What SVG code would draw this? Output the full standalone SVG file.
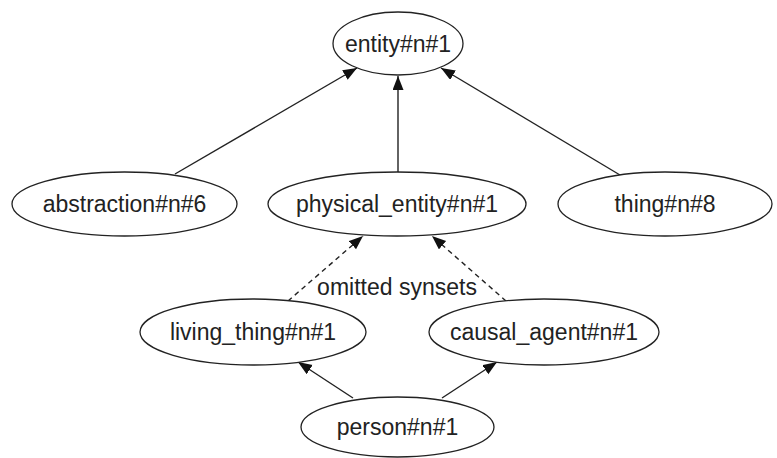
<svg xmlns="http://www.w3.org/2000/svg" width="777" height="458" viewBox="0 0 777 458">
  <style>
    .node ellipse { fill: #ffffff; stroke: #222222; stroke-width: 1.3; }
    .node text { font-family: "Liberation Sans", Arial, Helvetica, sans-serif; font-size: 23px; fill: #222222; text-anchor: middle; }
    .edge { stroke: #222222; stroke-width: 1.4; fill: none; }
    .dashed { stroke-dasharray: 5 4; }
    .label { font-family: "Liberation Sans", Arial, Helvetica, sans-serif; font-size: 23px; fill: #222222; text-anchor: middle; }
  </style>
  <defs>
    <marker id="arrow" markerUnits="userSpaceOnUse" markerWidth="15" markerHeight="12" refX="14" refY="5.5" orient="auto">
      <path d="M0,0 L14,5.5 L0,11 Z" fill="#111111"/>
    </marker>
  </defs>
  <rect width="777" height="458" fill="#ffffff"/>

  <g id="connectors">
    <line class="edge" x1="175" y1="174" x2="357" y2="68" marker-end="url(#arrow)"/>
    <line class="edge" x1="398" y1="172" x2="398" y2="76" marker-end="url(#arrow)"/>
    <line class="edge" x1="620" y1="175" x2="441" y2="68" marker-end="url(#arrow)"/>
    <line class="edge dashed" x1="288" y1="301" x2="363" y2="236" marker-end="url(#arrow)"/>
    <line class="edge dashed" x1="506" y1="301" x2="432" y2="236" marker-end="url(#arrow)"/>
    <line class="edge" x1="353" y1="398" x2="298" y2="362" marker-end="url(#arrow)"/>
    <line class="edge" x1="442" y1="398" x2="497" y2="362" marker-end="url(#arrow)"/>
    <text class="label" x="397" y="295">omitted synsets</text>
  </g>

  <g id="entity" class="node">
    <ellipse cx="398" cy="43.5" rx="65" ry="31.5"/>
    <text x="398" y="51.5">entity#n#1</text>
  </g>
  <g id="abstraction" class="node">
    <ellipse cx="124.5" cy="204" rx="112.5" ry="32"/>
    <text x="124.5" y="212">abstraction#n#6</text>
  </g>
  <g id="physical_entity" class="node">
    <ellipse cx="397" cy="204" rx="129" ry="32"/>
    <text x="397" y="212">physical_entity#n#1</text>
  </g>
  <g id="thing" class="node">
    <ellipse cx="665" cy="204" rx="107" ry="32"/>
    <text x="665" y="212">thing#n#8</text>
  </g>
  <g id="living_thing" class="node">
    <ellipse cx="253" cy="332" rx="113" ry="33"/>
    <text x="253" y="340">living_thing#n#1</text>
  </g>
  <g id="causal_agent" class="node">
    <ellipse cx="544" cy="332" rx="115" ry="33"/>
    <text x="544" y="340">causal_agent#n#1</text>
  </g>
  <g id="person" class="node">
    <ellipse cx="397.5" cy="427" rx="96.5" ry="30"/>
    <text x="397.5" y="435">person#n#1</text>
  </g>
</svg>
